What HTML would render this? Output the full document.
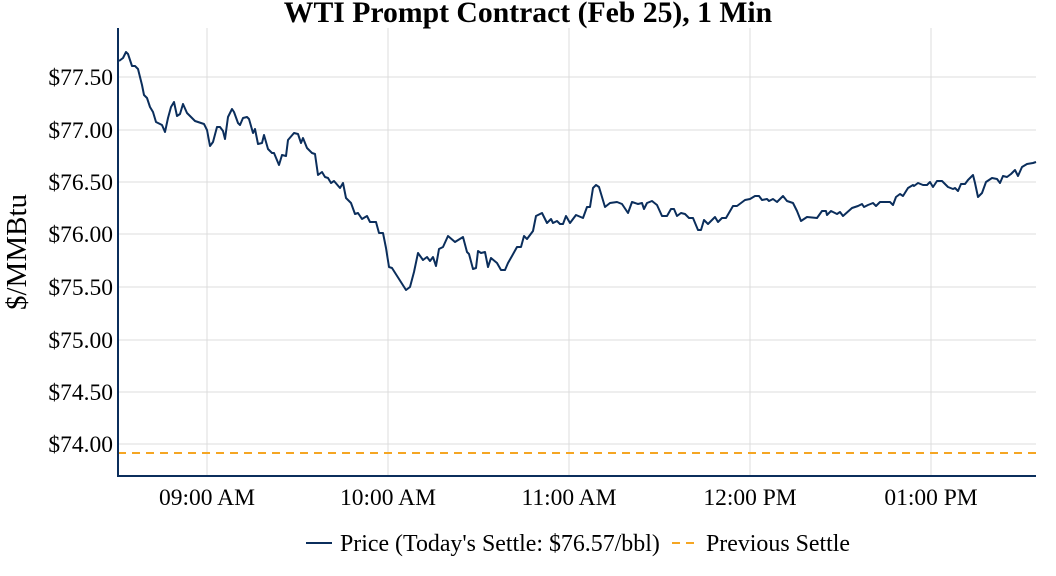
<!DOCTYPE html>
<html><head><meta charset="utf-8"><style>
html,body{margin:0;padding:0;background:#fff;}
svg{display:block;font-family:"Liberation Serif",serif;}
</style></head><body>
<svg width="1056" height="576" viewBox="0 0 1056 576">
<text x="528" y="22" text-anchor="middle" font-size="29.7" font-weight="bold" fill="#000">WTI Prompt Contract (Feb 25), 1 Min</text>
<g stroke="#dcdcdc" stroke-width="1">
<line x1="118" x2="1036" y1="77" y2="77"/><line x1="118" x2="1036" y1="130" y2="130"/>
<line x1="118" x2="1036" y1="182" y2="182"/><line x1="118" x2="1036" y1="234" y2="234"/>
<line x1="118" x2="1036" y1="287" y2="287"/><line x1="118" x2="1036" y1="340" y2="340"/>
<line x1="118" x2="1036" y1="392" y2="392"/><line x1="118" x2="1036" y1="444" y2="444"/>
<line x1="207" x2="207" y1="28" y2="476"/><line x1="388" x2="388" y1="28" y2="476"/>
<line x1="569" x2="569" y1="28" y2="476"/><line x1="750" x2="750" y1="28" y2="476"/>
<line x1="931" x2="931" y1="28" y2="476"/>
</g>
<g font-size="23.5" fill="#000" text-anchor="end">
<text x="113" y="85">$77.50</text><text x="113" y="138">$77.00</text>
<text x="113" y="190">$76.50</text><text x="113" y="242">$76.00</text>
<text x="113" y="295">$75.50</text><text x="113" y="348">$75.00</text>
<text x="113" y="400">$74.50</text><text x="113" y="452">$74.00</text>
</g>
<g font-size="23.5" fill="#000" text-anchor="middle">
<text x="207" y="505">09:00 AM</text><text x="388" y="505">10:00 AM</text>
<text x="569" y="505">11:00 AM</text><text x="750" y="505">12:00 PM</text>
<text x="931" y="505">01:00 PM</text>
</g>
<text transform="translate(26,252) rotate(-90)" text-anchor="middle" font-size="29" fill="#000">$/MMBtu</text>
<line x1="118" x2="1036" y1="453" y2="453" stroke="#f5a623" stroke-width="2" stroke-dasharray="8,6"/>
<polyline fill="none" stroke="#0b2e5c" stroke-width="2" stroke-linejoin="round" points="119,61 123,58 126,52 128,54 132,66 135,66 138,69 142,85 144,95 147,98 150,107 153,112 156,122 162,125 165,132 168,118 171,107 174,102 177,116 180,114 183,104 187,113 195,121 204,124 207,130 210,146 213,142 217,127 220,127 223,131 225,139 228,117 232,109 234,112 238,123 240,125 243,118 247,117 249,119 253,133 255,129 258,144 262,143 264,135 268,149 272,153 274,153 279,165 282,155 286,156 288,140 294,133 298,134 301,143 303,138 307,148 312,153 315,154 318,175 322,172 325,177 328,178 331,183 334,181 340,188 343,183 346,198 351,203 355,214 358,213 362,219 367,216 370,222 376,222 379,233 383,233 386,248 389,267 392,268 406,290 410,287 414,272 418,253 423,260 427,257 430,261 433,257 436,266 439,249 443,247 448,236 455,242 463,237 467,252 469,254 473,269 476,268 478,251 481,253 485,252 488,267 491,258 497,263 501,270 505,270 508,263 512,256 517,247 521,247 524,236 527,239 533,231 536,216 542,213 547,223 551,219 553,223 557,221 560,224 563,224 566,216 570,223 576,215 583,218 587,207 590,207 593,188 596,185 599,187 605,207 610,203 617,202 622,204 628,213 632,202 638,204 642,203 644,209 647,203 652,201 657,205 662,216 667,216 671,209 674,209 677,216 681,213 685,214 689,218 693,218 698,230 701,230 704,220 708,224 715,217 718,222 722,218 726,218 733,206 737,206 745,200 750,199 755,196 759,196 762,200 767,199 769,201 773,199 777,202 783,196 787,201 793,203 797,211 801,221 807,217 817,218 822,211 826,211 827,215 831,211 837,214 840,212 843,216 852,208 858,206 862,204 864,207 868,205 873,203 876,206 880,202 890,202 893,205 896,197 900,194 903,196 908,188 913,185 914,186 918,183 923,185 927,185 930,182 933,187 937,181 942,181 948,187 953,189 955,188 958,191 961,184 965,184 968,180 973,175 975,183 978,197 982,193 986,182 992,178 997,179 1000,183 1003,176 1007,177 1011,174 1015,170 1018,176 1022,167 1027,164 1033,163 1036,162"/>
<line x1="118" x2="118" y1="28" y2="477" stroke="#0b2e5c" stroke-width="2"/>
<line x1="117" x2="1036" y1="476" y2="476" stroke="#0b2e5c" stroke-width="2"/>
<line x1="306" x2="332" y1="543" y2="543" stroke="#0b2e5c" stroke-width="2"/>
<text x="340" y="551" font-size="23.9" fill="#000">Price (Today's Settle: $76.57/bbl)</text>
<line x1="672" x2="698" y1="543" y2="543" stroke="#f5a623" stroke-width="2" stroke-dasharray="8,6"/>
<text x="706" y="551" font-size="23.9" fill="#000">Previous Settle</text>
</svg>
</body></html>
